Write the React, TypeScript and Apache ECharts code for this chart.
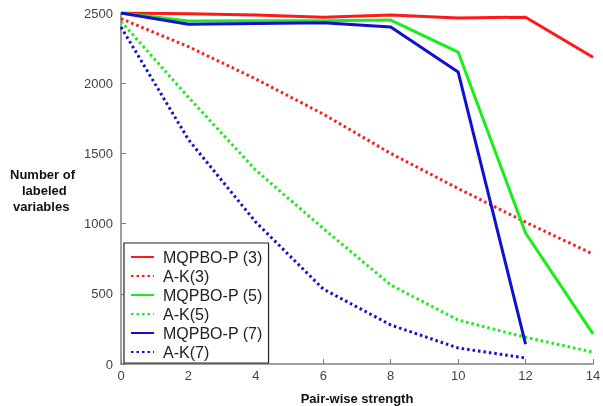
import React, { useEffect, useRef } from "react";
import * as echarts from "echarts";

const xTicks = [0, 2, 4, 6, 8, 10, 12, 14];
const yTicks = [0, 500, 1000, 1500, 2000, 2500];

const mqpbo3 = [2500, 2495, 2485, 2470, 2485, 2465, 2470, 2185];
const ak3 = [2460, 2260, 2030, 1780, 1500, 1250, 1010, 783];
const mqpbo5 = [2500, 2443, 2445, 2445, 2450, 2222, 933, 214];
const ak5 = [2440, 1900, 1380, 965, 563, 313, 190, 85];
const mqpbo7 = [2500, 2420, 2425, 2430, 2400, 2080, 142];
const ak7 = [2400, 1598, 1010, 534, 278, 114, 43];

const seriesDefs = [
  { name: "MQPBO-P (3)", data: mqpbo3, color: "#ff1a1a", dotted: false },
  { name: "A-K(3)", data: ak3, color: "#ff1a1a", dotted: true },
  { name: "MQPBO-P (5)", data: mqpbo5, color: "#1aee1a", dotted: false },
  { name: "A-K(5)", data: ak5, color: "#1aee1a", dotted: true },
  { name: "MQPBO-P (7)", data: mqpbo7, color: "#1010d0", dotted: false },
  { name: "A-K(7)", data: ak7, color: "#1010d0", dotted: true },
];

export default function App() {
  const ref = useRef<HTMLDivElement>(null);
  useEffect(() => {
    const chart = echarts.init(ref.current!, null, { renderer: "svg" });
    const font = "'Liberation Sans', Arial, sans-serif";
    chart.setOption({
      animation: false,
      textStyle: { fontFamily: font },
      grid: { left: 121, right: 10, top: 13, bottom: 42, outerBoundsMode: "none", containLabel: false },
      xAxis: {
        type: "value",
        min: 0,
        max: 14,
        interval: 2,
        name: "Pair-wise strength",
        nameLocation: "middle",
        nameGap: 28,
        nameTextStyle: { fontWeight: "bold", fontSize: 13, color: "#111", fontFamily: font },
        axisLine: { lineStyle: { color: "#808080", width: 1.5 } },
        axisTick: { inside: true, length: 5, lineStyle: { color: "#808080" } },
        axisLabel: { color: "#444", fontSize: 13, margin: 5, fontFamily: font },
        splitLine: { show: false },
      },
      yAxis: {
        type: "value",
        min: yTicks[0],
        max: yTicks[yTicks.length - 1],
        interval: 500,
        axisLine: { show: true, lineStyle: { color: "#808080", width: 1.5 } },
        axisTick: { show: true, inside: true, length: 5, lineStyle: { color: "#808080" } },
        axisLabel: {
          color: "#444",
          fontSize: 13,
          margin: 8,
          fontFamily: font,
          formatter: (v: number) => String(v),
        },
        splitLine: { show: false },
      },
      legend: {
        orient: "vertical",
        left: 124,
        top: 243,
        padding: [6, 6, 3, 6],
        itemGap: 3,
        itemWidth: 23,
        itemHeight: 16,
        backgroundColor: "#fff",
        borderColor: "#222",
        borderWidth: 1.2,
        itemStyle: { opacity: 0 },
        textStyle: { fontSize: 16, color: "#222", fontFamily: font, padding: [0, 0, 0, 4] },
        data: seriesDefs.map((s) => s.name),
      },
      graphic: [
        {
          type: "text",
          left: 10,
          top: 168,
          style: { text: "Number of", fontSize: 13, fontWeight: "bold", fill: "#111", fontFamily: font },
        },
        {
          type: "text",
          left: 22,
          top: 184,
          style: { text: "labeled", fontSize: 13, fontWeight: "bold", fill: "#111", fontFamily: font },
        },
        {
          type: "text",
          left: 13,
          top: 200,
          style: { text: "variables", fontSize: 13, fontWeight: "bold", fill: "#111", fontFamily: font },
        },
      ],
      series: seriesDefs.map((s) => ({
        name: s.name,
        type: "line",
        symbol: "none",
        data: s.data.map((v, i) => [xTicks[i], v]),
        color: s.color,
        lineStyle: {
          color: s.color,
          width: 3,
          type: s.dotted ? [2.5, 3] : "solid",
        },
        z: s.dotted ? 2 : 3,
      })),
    });
    return () => chart.dispose();
  }, []);
  return (
    <div
      ref={ref}
      style={{ position: "fixed", left: 0, top: 0, width: 603, height: 406 }}
    />
  );
}
